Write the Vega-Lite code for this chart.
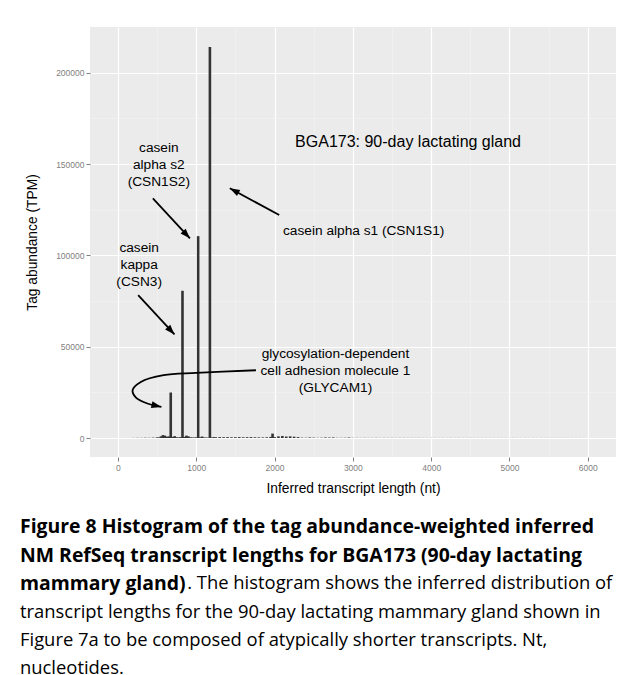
{
  "$schema": "https://vega.github.io/schema/vega-lite/v6.json",
  "width": 526,
  "height": 430,
  "autosize": {"type": "none"},
  "padding": {"left": 90, "top": 27, "right": 9, "bottom": 218},
  "background": "white",
  "config": {"view": {"fill": "#EBEBEB", "stroke": null}, "font": "Liberation Sans"},
  "title": {
    "text": ["Figure 8 Histogram of the tag abundance-weighted inferred", "NM RefSeq transcript lengths for BGA173 (90-day lactating", "mammary gland)"],
    "subtitle": ["\u200b\u00a0\u00a0\u00a0\u00a0\u00a0\u00a0\u00a0\u00a0\u00a0\u00a0\u00a0\u00a0\u00a0\u00a0\u00a0\u00a0\u00a0\u00a0\u00a0\u00a0\u00a0\u00a0\u00a0\u00a0\u00a0\u00a0\u00a0\u00a0\u00a0\u00a0\u00a0\u00a0\u00a0\u00a0\u00a0. The histogram shows the inferred distribution of", "transcript lengths for the 90-day lactating mammary gland shown in", "Figure 7a to be composed of atypically shorter transcripts. Nt,", "nucleotides."],
    "orient": "bottom",
    "anchor": "start",
    "frame": "group",
    "dx": -70,
    "offset": 23,
    "font": "Open Sans",
    "fontSize": 19.4,
    "fontWeight": "bold",
    "color": "black",
    "lineHeight": 28.3,
    "subtitleFont": "Open Sans",
    "subtitleFontSize": 18.4,
    "subtitleFontWeight": "normal",
    "subtitleColor": "black",
    "subtitleLineHeight": 28.3,
    "subtitlePadding": -20
  },
  "datasets": {
    "bins": [
      {"len": 200, "tpm": 60}, {"len": 250, "tpm": 100}, {"len": 300, "tpm": 80}, {"len": 350, "tpm": 150},
      {"len": 400, "tpm": 120}, {"len": 450, "tpm": 200}, {"len": 500, "tpm": 350}, {"len": 525, "tpm": 300},
      {"len": 550, "tpm": 900}, {"len": 575, "tpm": 1600}, {"len": 600, "tpm": 1300}, {"len": 625, "tpm": 700},
      {"len": 650, "tpm": 900}, {"len": 675, "tpm": 24900}, {"len": 700, "tpm": 600}, {"len": 725, "tpm": 1000},
      {"len": 750, "tpm": 400}, {"len": 775, "tpm": 300}, {"len": 800, "tpm": 500}, {"len": 825, "tpm": 80600},
      {"len": 850, "tpm": 600}, {"len": 875, "tpm": 1300}, {"len": 900, "tpm": 900}, {"len": 925, "tpm": 400},
      {"len": 950, "tpm": 300}, {"len": 975, "tpm": 250}, {"len": 1000, "tpm": 350}, {"len": 1025, "tpm": 110500},
      {"len": 1050, "tpm": 400}, {"len": 1075, "tpm": 800}, {"len": 1100, "tpm": 300}, {"len": 1125, "tpm": 250},
      {"len": 1150, "tpm": 200}, {"len": 1175, "tpm": 214000}, {"len": 1200, "tpm": 300}, {"len": 1225, "tpm": 500},
      {"len": 1250, "tpm": 400}, {"len": 1300, "tpm": 500}, {"len": 1350, "tpm": 450}, {"len": 1400, "tpm": 500},
      {"len": 1450, "tpm": 400}, {"len": 1500, "tpm": 450}, {"len": 1550, "tpm": 500}, {"len": 1600, "tpm": 400},
      {"len": 1650, "tpm": 450}, {"len": 1700, "tpm": 500}, {"len": 1750, "tpm": 400}, {"len": 1800, "tpm": 350},
      {"len": 1850, "tpm": 300}, {"len": 1900, "tpm": 400}, {"len": 1950, "tpm": 600}, {"len": 1975, "tpm": 2400},
      {"len": 2000, "tpm": 500}, {"len": 2050, "tpm": 900}, {"len": 2100, "tpm": 1100}, {"len": 2150, "tpm": 800},
      {"len": 2200, "tpm": 900}, {"len": 2250, "tpm": 700}, {"len": 2300, "tpm": 500}, {"len": 2350, "tpm": 200},
      {"len": 2400, "tpm": 150}, {"len": 2450, "tpm": 300}, {"len": 2500, "tpm": 200}, {"len": 2550, "tpm": 100},
      {"len": 2600, "tpm": 150}, {"len": 2650, "tpm": 300}, {"len": 2700, "tpm": 250}, {"len": 2750, "tpm": 300},
      {"len": 2800, "tpm": 120}, {"len": 2850, "tpm": 100}, {"len": 2900, "tpm": 150}, {"len": 2950, "tpm": 250},
      {"len": 3000, "tpm": 100}, {"len": 3050, "tpm": 80}, {"len": 3100, "tpm": 60}, {"len": 3150, "tpm": 90},
      {"len": 3200, "tpm": 70}, {"len": 3250, "tpm": 60}, {"len": 3300, "tpm": 80}, {"len": 3350, "tpm": 50},
      {"len": 3400, "tpm": 70}, {"len": 3450, "tpm": 60}, {"len": 3500, "tpm": 80}, {"len": 3550, "tpm": 50},
      {"len": 3600, "tpm": 60}, {"len": 3650, "tpm": 70}, {"len": 3700, "tpm": 50}, {"len": 3750, "tpm": 60},
      {"len": 3800, "tpm": 50}, {"len": 3850, "tpm": 60}, {"len": 3900, "tpm": 50}, {"len": 3950, "tpm": 40},
      {"len": 4000, "tpm": 60}, {"len": 4050, "tpm": 50}, {"len": 4100, "tpm": 40}, {"len": 4150, "tpm": 50},
      {"len": 4200, "tpm": 40}, {"len": 4250, "tpm": 50}, {"len": 4300, "tpm": 40}, {"len": 4350, "tpm": 50},
      {"len": 4400, "tpm": 40}, {"len": 4450, "tpm": 40}, {"len": 4500, "tpm": 50}, {"len": 4550, "tpm": 40},
      {"len": 4600, "tpm": 40}, {"len": 4650, "tpm": 30}, {"len": 4700, "tpm": 40}, {"len": 4750, "tpm": 30},
      {"len": 4800, "tpm": 40}, {"len": 4850, "tpm": 30}, {"len": 4900, "tpm": 40}, {"len": 4950, "tpm": 30},
      {"len": 5000, "tpm": 30}, {"len": 5050, "tpm": 40}, {"len": 5100, "tpm": 30}, {"len": 5150, "tpm": 30},
      {"len": 5200, "tpm": 30}, {"len": 5250, "tpm": 30}, {"len": 5300, "tpm": 30}, {"len": 5350, "tpm": 30},
      {"len": 5400, "tpm": 30}, {"len": 5450, "tpm": 30}, {"len": 5500, "tpm": 30}, {"len": 5550, "tpm": 30},
      {"len": 5600, "tpm": 30}, {"len": 5650, "tpm": 30}, {"len": 5700, "tpm": 30}, {"len": 5750, "tpm": 30},
      {"len": 5800, "tpm": 30}, {"len": 5850, "tpm": 30}, {"len": 5900, "tpm": 30}, {"len": 5950, "tpm": 30}
    ],
    "arrows": [
      {"name": "CSN1S1", "x": 2060, "y": 122100, "x2": 1429, "y2": 136700},
      {"name": "CSN1S2", "x": 447, "y": 131200, "x2": 920, "y2": 109300},
      {"name": "CSN3", "x": 259, "y": 78200, "x2": 723, "y2": 56700}
    ],
    "tips": [
      {"name": "CSN1S1", "x": 1429, "y": 136700},
      {"name": "CSN1S2", "x": 920, "y": 109300},
      {"name": "CSN3", "x": 723, "y": 56700},
      {"name": "GLYCAM1", "x": 556, "y": 17000}
    ],
    "curve": [
      {"i": 1, "x": 1763, "y": 37100},
      {"i": 2, "x": 999, "y": 35600},
      {"i": 3, "x": 585, "y": 34400},
      {"i": 4, "x": 293, "y": 30700},
      {"i": 5, "x": 188, "y": 26200},
      {"i": 6, "x": 231, "y": 22100},
      {"i": 7, "x": 376, "y": 18900},
      {"i": 8, "x": 556, "y": 17000}
    ],
    "labels": [
      {"text": "casein alpha s1 (CSN1S1)", "x": 3138, "y": 113500},
      {"text": "casein\nalpha s2\n(CSN1S2)", "x": 523, "y": 158650},
      {"text": "casein\nkappa\n(CSN3)", "x": 272, "y": 103830},
      {"text": "glycosylation-dependent\ncell adhesion molecule 1\n(GLYCAM1)", "x": 2778, "y": 45880}
    ],
    "heading": [
      {"text": "BGA173: 90-day lactating gland", "x": 3705, "y": 161950}
    ]
  },
  "layer": [
    {
      "data": {"name": "bins"},
      "mark": {"type": "bar", "size": 2.6, "color": "#333333"},
      "encoding": {
        "x": {
          "field": "len", "type": "quantitative",
          "scale": {"domain": [-292, 6296], "nice": false, "zero": false},
          "axis": {
            "values": [0, 500, 1000, 1500, 2000, 2500, 3000, 3500, 4000, 4500, 5000, 5500, 6000],
            "labelExpr": "datum.value % 1000 === 0 ? datum.label : ''",
            "format": "d",
            "domain": false,
            "tickSize": 4,
            "tickColor": "#7F7F7F",
            "tickOpacity": {"condition": {"test": "datum.value % 1000 !== 0", "value": 0}, "value": 1},
            "gridColor": {"condition": {"test": "datum.value % 1000 !== 0", "value": "#F4F4F4"}, "value": "#FFFFFF"},
            "gridWidth": {"condition": {"test": "datum.value % 1000 !== 0", "value": 0.6}, "value": 1.2},
            "labelFontSize": 8.5,
            "labelColor": "#7F7F7F",
            "labelPadding": 2,
            "title": "Inferred transcript length (nt)",
            "titleFontSize": 13.8,
            "titleFontWeight": "normal",
            "titleColor": "black",
            "titlePadding": 10
          }
        },
        "y": {
          "field": "tpm", "type": "quantitative",
          "scale": {"domain": [-10400, 225000], "nice": false},
          "axis": {
            "values": [0, 25000, 50000, 75000, 100000, 125000, 150000, 175000, 200000],
            "labelExpr": "datum.value % 50000 === 0 ? datum.label : ''",
            "format": "d",
            "domain": false,
            "tickSize": 4,
            "tickColor": "#7F7F7F",
            "tickOpacity": {"condition": {"test": "datum.value % 50000 !== 0", "value": 0}, "value": 1},
            "gridColor": {"condition": {"test": "datum.value % 50000 !== 0", "value": "#F4F4F4"}, "value": "#FFFFFF"},
            "gridWidth": {"condition": {"test": "datum.value % 50000 !== 0", "value": 0.6}, "value": 1.2},
            "labelFontSize": 8.5,
            "labelColor": "#7F7F7F",
            "labelPadding": 2,
            "title": "Tag abundance (TPM)",
            "titleFontSize": 13.8,
            "titleFontWeight": "normal",
            "titleColor": "black",
            "titlePadding": 16
          }
        }
      }
    },
    {
      "data": {"name": "arrows"},
      "mark": {"type": "rule", "color": "black", "strokeWidth": 1.8},
      "encoding": {
        "x": {"field": "x", "type": "quantitative"},
        "y": {"field": "y", "type": "quantitative"},
        "x2": {"field": "x2"},
        "y2": {"field": "y2"}
      }
    },
    {
      "data": {"name": "curve"},
      "mark": {"type": "line", "color": "black", "strokeWidth": 1.8, "interpolate": "catmull-rom"},
      "encoding": {
        "x": {"field": "x", "type": "quantitative"},
        "y": {"field": "y", "type": "quantitative"},
        "order": {"field": "i", "type": "quantitative"}
      }
    },
    {
      "data": {"name": "tips"},
      "transform": [{"filter": "datum.name === 'CSN1S1'"}],
      "mark": {"type": "point", "shape": "M0,0L0.7,2L-0.7,2Z", "filled": true, "color": "black", "opacity": 1, "size": 100, "angle": 298},
      "encoding": {"x": {"field": "x", "type": "quantitative"}, "y": {"field": "y", "type": "quantitative"}}
    },
    {
      "data": {"name": "tips"},
      "transform": [{"filter": "datum.name === 'CSN1S2' || datum.name === 'CSN3'"}],
      "mark": {"type": "point", "shape": "M0,0L0.7,2L-0.7,2Z", "filled": true, "color": "black", "opacity": 1, "size": 100, "angle": 137},
      "encoding": {"x": {"field": "x", "type": "quantitative"}, "y": {"field": "y", "type": "quantitative"}}
    },
    {
      "data": {"name": "tips"},
      "transform": [{"filter": "datum.name === 'GLYCAM1'"}],
      "mark": {"type": "point", "shape": "M0,0L0.7,2L-0.7,2Z", "filled": true, "color": "black", "opacity": 1, "size": 100, "angle": 103},
      "encoding": {"x": {"field": "x", "type": "quantitative"}, "y": {"field": "y", "type": "quantitative"}}
    },
    {
      "data": {"name": "labels"},
      "mark": {"type": "text", "fontSize": 13.7, "lineBreak": "\n", "lineHeight": 17, "align": "center", "baseline": "middle", "color": "black", "font": "Liberation Sans"},
      "encoding": {
        "x": {"field": "x", "type": "quantitative"},
        "y": {"field": "y", "type": "quantitative"},
        "text": {"field": "text"}
      }
    },
    {
      "data": {"name": "heading"},
      "mark": {"type": "text", "fontSize": 16, "align": "center", "baseline": "middle", "color": "black", "font": "Liberation Sans"},
      "encoding": {
        "x": {"field": "x", "type": "quantitative"},
        "y": {"field": "y", "type": "quantitative"},
        "text": {"field": "text"}
      }
    }
  ]
}
